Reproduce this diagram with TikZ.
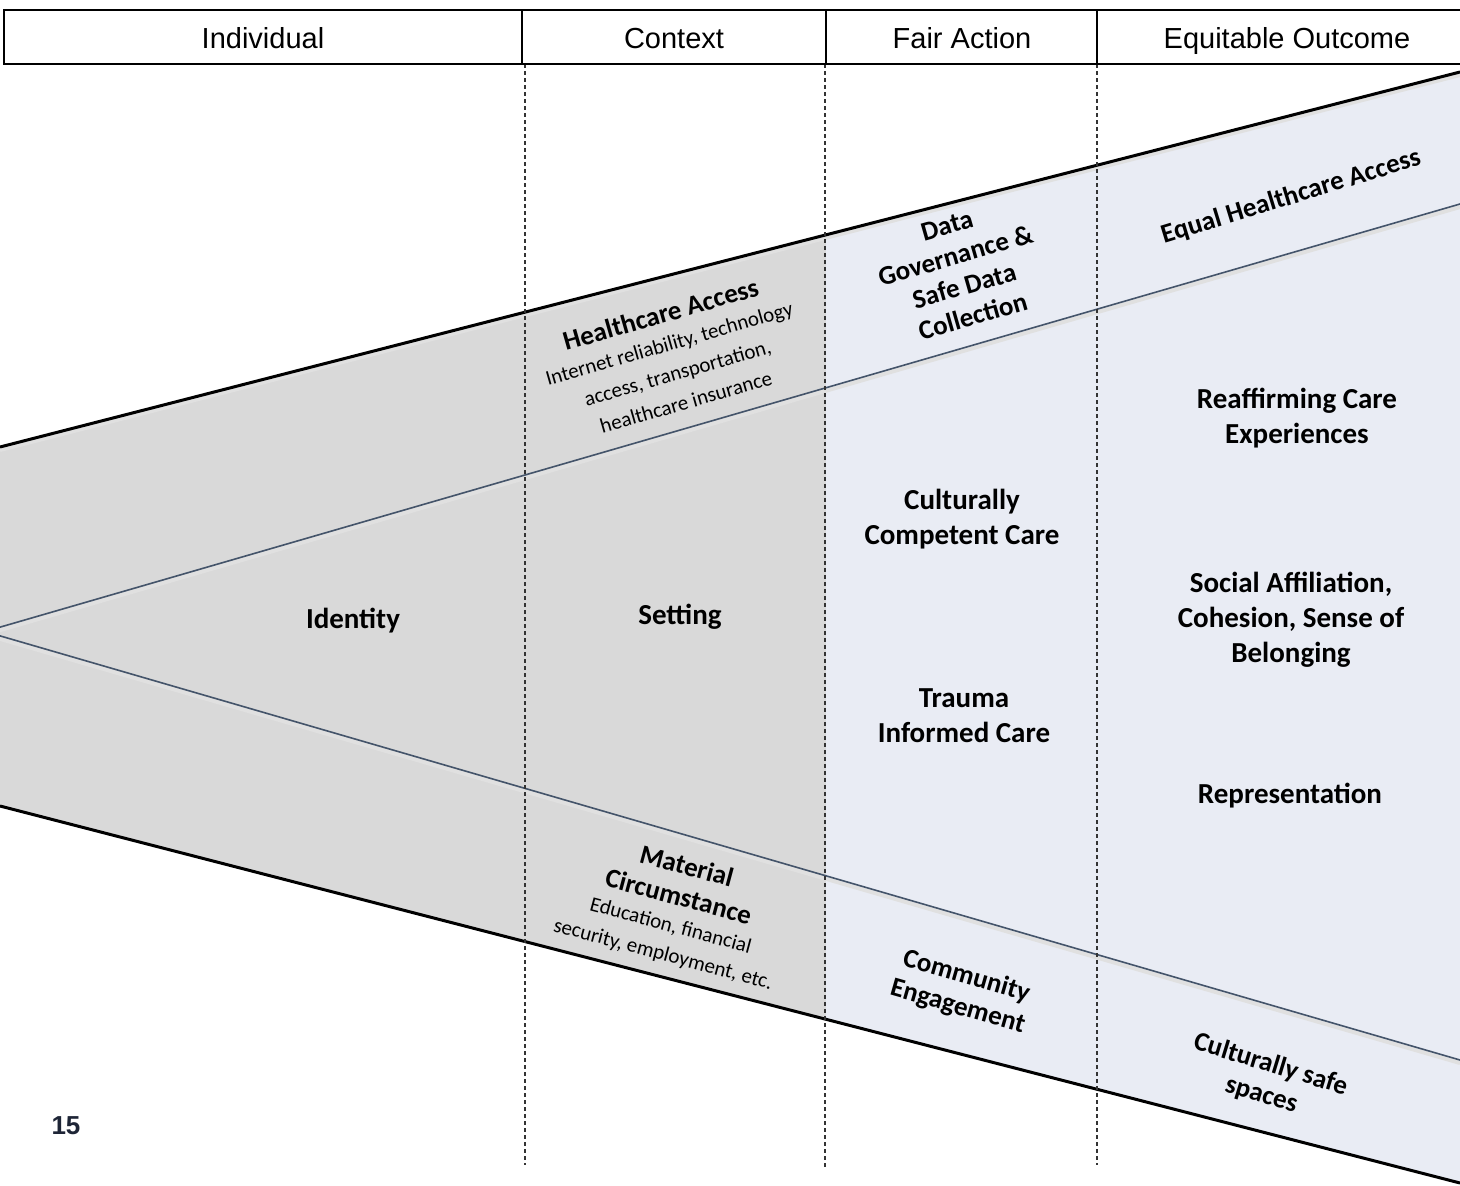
\documentclass[tikz,border=0pt]{standalone}
\usepackage{fontspec}
\setmainfont{Carlito}
\newfontfamily\arialf{Liberation Sans}
\definecolor{wedgegray}{HTML}{D9D9D9}
\definecolor{wedgeblue}{HTML}{E9ECF4}
\definecolor{slateline}{HTML}{44546A}
\definecolor{pagenum}{HTML}{1E2536}
\begin{document}
\begin{tikzpicture}[x=1pt,y=-1pt,
  lbl/.style={font=\fontsize{29}{35}\selectfont\bfseries, align=center, inner sep=0pt},
  rlbl/.style={font=\fontsize{27}{31.5}\selectfont\bfseries, align=center, inner sep=0pt},
  sub/.style={},
  hdr/.style={font=\arialf\fontsize{29}{34}\selectfont, inner sep=0pt, anchor=base},
  outer/.style={line width=3pt, black},
  inner/.style={line width=1.6pt, slateline},
  shade/.style={line width=4pt, black!12},
  divider/.style={dashed, dash pattern=on 4pt off 3pt, line width=1.2pt, black!80}
]
\useasboundingbox (0,0) rectangle (1460,1186);
\fill[white] (0,0) rectangle (1460,1186);
% key coordinates
\coordinate (TL) at (0,447);
\coordinate (TR) at (1460,72);
\coordinate (BL) at (0,806);
\coordinate (BR) at (1460,1183);
\coordinate (TM) at (826,234.9);
\coordinate (BM) at (826,1019.3);
\coordinate (apex) at (-15,631.5);
\coordinate (UR) at (1460,204);
\coordinate (LR) at (1460,1060);
% fills
\fill[wedgegray] (TL) -- (TM) -- (BM) -- (BL) -- cycle;
\fill[wedgeblue] (TM) -- (TR) -- (BR) -- (BM) -- cycle;
% shadows
\draw[shade] ([yshift=-3pt]apex) -- ([yshift=-3pt]UR);
\draw[shade] ([yshift=-3pt]apex) -- ([yshift=-3pt]LR);
\draw[shade] ([yshift=-3pt]TL) -- ([yshift=-3pt]TR);
% inner lines
\draw[inner] (apex) -- (UR);
\draw[inner] (apex) -- (LR);
% outer lines
\draw[outer] (TL) -- (TR);
\draw[outer] (BL) -- (BR);
% dashed column dividers
\coordinate (d1t) at (525,64); \coordinate (d1b) at (525,1165);
\coordinate (d2t) at (825,64); \coordinate (d2b) at (825,1168);
\coordinate (d3t) at (1097,64); \coordinate (d3b) at (1097,1165);
\draw[divider] (d1t) -- (d1b);
\draw[divider] (d2t) -- (d2b);
\draw[divider] (d3t) -- (d3b);
% header
\fill[white] (4,10) rectangle (1478,64);
\draw[line width=1.6pt] (522,10) -- (522,64);
\draw[line width=1.6pt] (826,10) -- (826,64);
\draw[line width=1.6pt] (1097,10) -- (1097,64);
\draw[line width=2.6pt] (4,10) rectangle (1478,64);
\node[hdr] (h1) at (263,48) {Individual};
\node[hdr] (h2) at (674,48) {Context};
\node[hdr] (h3) at (962,48) {Fair Action};
\node[hdr] (h4) at (1287,48) {Equitable Outcome};
% labels
\node[lbl] (identity) at (353,621) {Identity};
\node[lbl] (setting) at (680,617) {Setting};
\node[lbl] (ccc) at (962,519) {Culturally\\Competent Care};
\node[lbl] (tic) at (964,716) {Trauma\\Informed Care};
\node[lbl] (rce) at (1297,418) {Reaffirming Care\\Experiences};
\node[lbl] (sac) at (1291,620) {Social Affiliation,\\Cohesion, Sense of\\Belonging};
\node[lbl] (rep) at (1290,796) {Representation};
\node[rlbl, rotate=16] (hca) at (673,357) {Healthcare Access\\[-3pt]
  {\fontsize{21}{25}\selectfont\mdseries Internet reliability, technology}\\[-1pt]
  {\fontsize{21}{25}\selectfont\mdseries access, transportation,}\\[-1pt]
  {\fontsize{21}{25}\selectfont\mdseries healthcare insurance}};
\node[rlbl, rotate=16] (dg) at (960,271) {Data\\Governance \&\\Safe Data\\Collection};
\node[rlbl, rotate=17] (eha) at (1291,197) {Equal Healthcare Access};
\node[rlbl, rotate=-15] (mc) at (675,910) {Material\\Circumstance\\[-4pt]
  {\fontsize{21}{25}\selectfont\mdseries Education, financial}\\[-2pt]
  {\fontsize{21}{25}\selectfont\mdseries security, employment, etc.}};
\node[rlbl, rotate=-16] (ce) at (962,992) {Community\\Engagement};
\node[rlbl, rotate=-17] (css) at (1266,1080) {Culturally safe\\spaces};
\node[font=\arialf\fontsize{26}{30}\selectfont\bfseries, text=pagenum, inner sep=0pt] (pg) at (66,1126) {15};
\end{tikzpicture}
\end{document}
